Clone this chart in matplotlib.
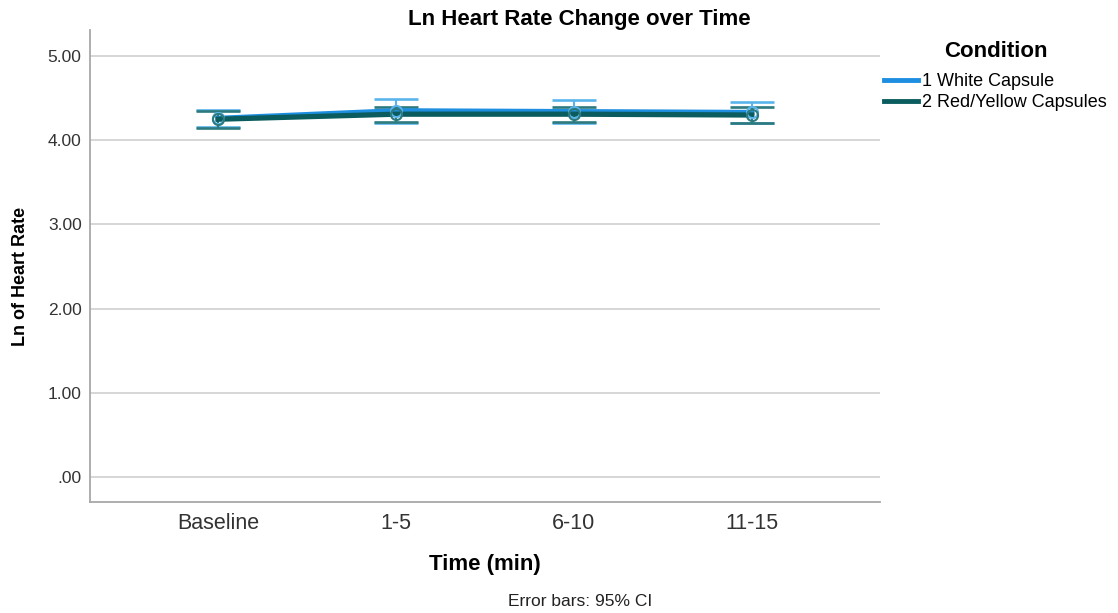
import numpy as np
import matplotlib
matplotlib.use("Agg")
import matplotlib.pyplot as plt
from matplotlib.ticker import FuncFormatter

plt.rcParams['font.family'] = ['Liberation Sans', 'DejaVu Sans']

# data
times = ['Baseline', '1-5', '6-10', '11-15']
white_mean = [4.26, 4.35, 4.34, 4.33]
white_ci = [0.10, 0.14, 0.14, 0.13]
red_mean = [4.25, 4.31, 4.31, 4.30]
red_ci = [0.10, 0.09, 0.09, 0.09]
conditions = ['1 White Capsule', '2 Red/Yellow Capsules']

white_line = '#1e8fe0'
white_bar = '#5ab4ec'
red_line = '#0b5c5e'
red_bar = '#2c7a7e'

fig = plt.figure(figsize=(11.18, 6.13), dpi=100)
ax = fig.add_axes([0.0805, 0.181, 0.7065, 0.770])

x = np.arange(len(times))

for mean, ci, lc, bc, lab in [(white_mean, white_ci, white_line, white_bar, conditions[0]),
                              (red_mean, red_ci, red_line, red_bar, conditions[1])]:
    ax.errorbar(x, mean, yerr=ci, fmt='none', ecolor=bc, elinewidth=1.5,
                capsize=16, capthick=1.9, zorder=3)
    ax.plot(x, mean, color=lc, linewidth=3.8, label=lab, zorder=4)
    ax.plot(x, mean, linestyle='none', marker='o', markersize=8,
            markerfacecolor='none', markeredgecolor=bc, markeredgewidth=1.5, zorder=5)

ax.set_xlim(-0.72, 3.72)
ax.set_ylim(-0.30, 5.31)
ax.set_yticks([0, 1, 2, 3, 4, 5])
ax.yaxis.set_major_formatter(FuncFormatter(lambda v, p: '.00' if v == 0 else f'{v:.2f}'))
ax.set_xticks(x)
ax.set_xticklabels(times)
ax.tick_params(axis='y', length=0, labelsize=12.5, colors='#333333', pad=6)
ax.tick_params(axis='x', length=0, labelsize=15.5, colors='#333333', pad=8)
ax.grid(axis='y', color='#d0d0d0', linewidth=1.2)
ax.set_axisbelow(True)
for s in ['top', 'right']:
    ax.spines[s].set_visible(False)
for s in ['left', 'bottom']:
    ax.spines[s].set_color('#a8a8a8')
    ax.spines[s].set_linewidth(1.3)

ax.set_title('Ln Heart Rate Change over Time', fontsize=16, fontweight='bold', x=0.62, pad=3)
ax.set_xlabel('Time (min)', fontsize=16, fontweight='bold', labelpad=14)
ax.set_ylabel('Ln of Heart Rate', fontsize=13, fontweight='bold')
ax.yaxis.set_label_coords(-0.077, 0.479)

fig.text(0.519, 0.006, 'Error bars: 95% CI', ha='center', va='bottom', fontsize=12.5, color='#222222')

leg = ax.legend(loc='upper left', bbox_to_anchor=(0.991, 1.0), frameon=False,
                title='Condition', fontsize=13, handlelength=1.9,
                handletextpad=0.25, labelspacing=0.22, borderaxespad=0.2)
leg.get_title().set_fontweight('bold')
leg.get_title().set_fontsize(16)
leg._legend_box.sep = 8
for line in leg.get_lines():
    line.set_linewidth(3.5)

fig.savefig('out.png', dpi=100)
